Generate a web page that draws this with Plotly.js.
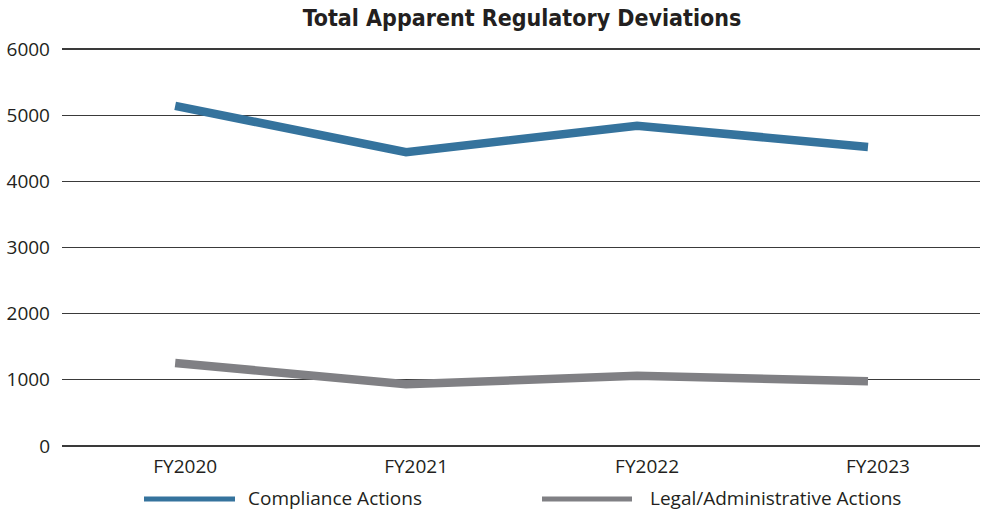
<!DOCTYPE html>
<html>
<head>
<meta charset="utf-8">
<script src="https://cdn.plot.ly/plotly-3.0.1.min.js"></script>
<style>html,body{margin:0;padding:0;background:#fff;}#chart{width:990px;height:513px;}</style>
</head>
<body>
<div id="chart"></div>
<script>
const years = ["FY2020", "FY2021", "FY2022", "FY2023"];
const seriesNames = ["Compliance Actions", "Legal/Administrative Actions"];
const compliance = [5140, 4440, 4840, 4520];
const legal = [1255, 935, 1060, 980];
const yTicks = [0, 1000, 2000, 3000, 4000, 5000, 6000];
const titleText = "Total Apparent Regulatory Deviations";

const colors = ["#35739d", "#808084"];
const W = 990, H = 513;
const M = {l: 62, r: 10, t: 47, b: 65};
const pw = W - M.l - M.r, ph = H - M.t - M.b;
const px2x = p => (p - M.l) / pw;
const px2y = p => (H - M.b - p) / ph;

const textFont = {family: "'Open Sans', 'Noto Sans', sans-serif", size: 19, color: "#231f20"};

const traces = [compliance, legal].map((vals, i) => ({
  type: "scatter", mode: "lines", x: years, y: vals, name: seriesNames[i],
  line: {color: colors[i], width: 8.5}, showlegend: false, hoverinfo: "skip"
}));

const legendItems = [
  {x0: 144, x1: 235, tx: 246},
  {x0: 542, x1: 632, tx: 648}
];
const legendY = 498;
const shapes = legendItems.map((it, i) => ({
  type: "line", xref: "paper", yref: "paper",
  x0: px2x(it.x0), x1: px2x(it.x1), y0: px2y(legendY + 1), y1: px2y(legendY + 1),
  line: {color: colors[i], width: 5}
}));
const annotations = legendItems.map((it, i) => ({
  xref: "paper", yref: "paper", x: px2x(it.tx), y: px2y(legendY),
  xanchor: "left", yanchor: "middle", text: seriesNames[i], showarrow: false,
  font: textFont
}));

const layout = {
  width: W, height: H, margin: M,
  paper_bgcolor: "#fff", plot_bgcolor: "#fff",
  showlegend: false,
  title: {
    text: "<b>" + titleText + "</b>", x: 522 / W, xanchor: "center",
    y: 1 - 18 / H, yanchor: "middle",
    font: {family: "'DejaVu Sans Condensed', sans-serif", size: 23, color: "#231f20"}
  },
  xaxis: {
    type: "category", range: [-0.49, 3.485], showgrid: false, zeroline: false,
    showline: false, ticks: "", tickfont: textFont, ticklabelstandoff: 5,
    ticklabelshift: 10, fixedrange: true
  },
  yaxis: {
    range: [-30, 6030], tickvals: yTicks, ticktext: yTicks.map(String),
    showgrid: true, gridcolor: "#3a3a3a", gridwidth: 1.2, zeroline: false,
    showline: false, ticks: "", tickfont: textFont, ticklabelstandoff: 11, fixedrange: true
  },
  shapes: shapes, annotations: annotations
};

Plotly.newPlot("chart", traces, layout, {displayModeBar: false, staticPlot: true});
</script>
</body>
</html>
